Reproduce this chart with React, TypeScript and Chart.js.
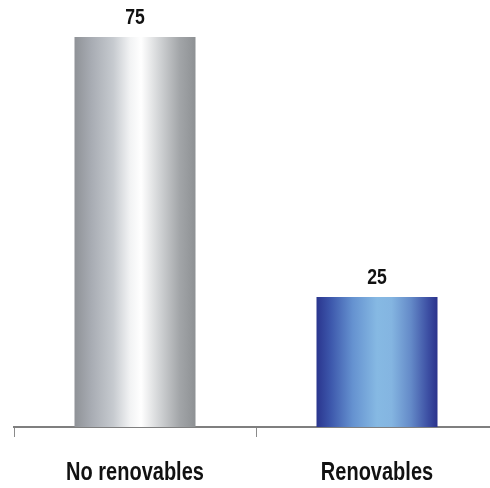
import React, { useEffect, useRef } from "react";
import { Chart, registerables } from "chart.js";

Chart.register(...registerables);

const categories = ["No renovables", "Renovables"];
const values = [75, 25];
const valueLabels = ["75", "25"];

const FONT = "'Liberation Sans', Arial, sans-serif";

const greyStops: [number, string][] = [
  [0, "#8f9297"],
  [0.14, "#a8acb3"],
  [0.32, "#c6cacf"],
  [0.46, "#f2f3f4"],
  [0.55, "#ffffff"],
  [0.7, "#d2d4d6"],
  [0.87, "#a2a5a8"],
  [1, "#8e9194"],
];
const blueStops: [number, string][] = [
  [0, "#2a358e"],
  [0.12, "#3d58ac"],
  [0.3, "#6592d0"],
  [0.5, "#86b9e3"],
  [0.62, "#84b5e1"],
  [0.78, "#648ac8"],
  [0.92, "#3d50a4"],
  [1, "#2b328c"],
];
const stopsList = [greyStops, blueStops];

const SQUEEZE = 0.8;

const textPlugin = {
  id: "textLabels",
  afterDatasetsDraw(chart: any) {
    const ctx = chart.ctx;
    const meta = chart.getDatasetMeta(0);
    const xs = chart.scales.x;
    ctx.save();
    ctx.fillStyle = "#111111";
    ctx.textAlign = "center";
    ctx.textBaseline = "alphabetic";
    ctx.font = `bold 22px ${FONT}`;
    meta.data.forEach((bar: any, i: number) => {
      ctx.save();
      ctx.translate(bar.x, bar.y - 13);
      ctx.scale(SQUEEZE, 1);
      ctx.fillText(valueLabels[i], 0, 0);
      ctx.restore();
    });
    ctx.font = `bold 25px ${FONT}`;
    categories.forEach((lab, i) => {
      const x = xs.getPixelForValue(i);
      ctx.save();
      ctx.translate(x, chart.chartArea.bottom + 53);
      ctx.scale(SQUEEZE, 1);
      ctx.fillText(lab, 0, 0);
      ctx.restore();
    });
    ctx.restore();
  },
};

export default function App() {
  const ref = useRef<HTMLCanvasElement>(null);
  useEffect(() => {
    if (!ref.current) return;
    const chart = new Chart(ref.current, {
      type: "bar",
      data: {
        labels: categories,
        datasets: [
          {
            data: values,
            categoryPercentage: 1,
            barPercentage: 0.5,
            borderWidth: 0,
            backgroundColor: (c: any) => {
              const ch = c.chart;
              const xs = ch.scales?.x;
              if (!xs || !ch.chartArea) return "#999";
              const center = xs.getPixelForValue(c.dataIndex);
              const w = (xs.width / categories.length) * 0.5;
              const g = ch.ctx.createLinearGradient(center - w / 2, 0, center + w / 2, 0);
              for (const [o, col] of stopsList[c.dataIndex % 2]) g.addColorStop(o, col);
              return g;
            },
          },
        ],
      },
      options: {
        responsive: false,
        animation: false,
        layout: { padding: { left: 14, right: 2, top: 11, bottom: 0 } },
        plugins: { legend: { display: false }, tooltip: { enabled: false } },
        scales: {
          y: { display: false, min: 0, max: 80 },
          x: {
            offset: true,
            afterFit: (scale: any) => {
              scale.height = 61;
            },
            border: { display: true, color: "#7f7f7f", width: 2 },
            grid: {
              display: true,
              drawOnChartArea: false,
              drawTicks: true,
              tickLength: 10,
              color: "#8a8a8a",
              offset: true,
            },
            ticks: { display: false },
          },
        },
      },
      plugins: [textPlugin],
    });
    return () => chart.destroy();
  }, []);
  return (
    <div style={{ position: "absolute", left: 0, top: 0, width: 490, height: 488, overflow: "hidden", background: "#fff" }}>
      <canvas ref={ref} width={500} height={488} style={{ display: "block" }} />
    </div>
  );
}
